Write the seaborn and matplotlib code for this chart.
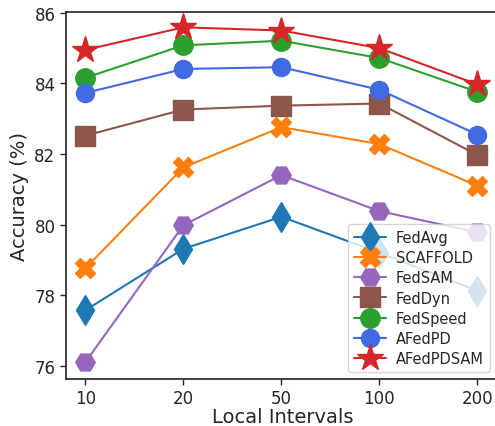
import matplotlib
matplotlib.use("Agg")
import matplotlib.pyplot as plt
import seaborn as sns

# x categories (local intervals)
intervals = ["10", "20", "50", "100", "200"]

# accuracy (%) per method
fedavg = [77.57, 79.31, 80.22, 79.20, 78.12]
scaffold = [78.76, 81.62, 82.76, 82.28, 81.10]
fedsam = [76.10, 79.98, 81.40, 80.38, 79.78]
feddyn = [82.52, 83.26, 83.37, 83.43, 81.97]
fedspeed = [84.16, 85.08, 85.21, 84.72, 83.76]
afedpd = [83.73, 84.41, 84.46, 83.82, 82.55]
afedpdsam = [84.95, 85.59, 85.50, 85.00, 83.97]

methods = ["FedAvg", "SCAFFOLD", "FedSAM", "FedDyn", "FedSpeed", "AFedPD", "AFedPDSAM"]
series = [fedavg, scaffold, fedsam, feddyn, fedspeed, afedpd, afedpdsam]
colors = ["#1f77b4", "#ff7f0e", "#9467bd", "#8c564b", "#2ca02c", "#4169e1", "#d62728"]
markers = ["d", "X", "H", "s", "o", "o", "*"]
msizes = [15, 14, 14, 14, 14, 13, 20]

sns.set_style("white")
plt.rcParams['font.family'] = ['DejaVu Sans']

fig = plt.figure(figsize=(4.95, 4.27), dpi=100)
ax = fig.add_axes([0.133, 0.11, 0.875, 0.86])

for name, vals, c, m, ms in zip(methods, series, colors, markers, msizes):
    sns.lineplot(x=intervals, y=vals, ax=ax, color=c, marker=m, markersize=ms,
                 markeredgecolor=c, markeredgewidth=1, linewidth=1.5, label=name)

ax.set_ylim(75.62, 86.03)
ax.set_xlim(-0.2, 4.22)
ax.set_yticks([76, 78, 80, 82, 84, 86])
ax.tick_params(axis="both", labelsize=12, length=4, width=1, bottom=True, left=True)
ax.set_xlabel("Local Intervals", fontsize=14, labelpad=0)
ax.set_ylabel("Accuracy (%)", fontsize=14, labelpad=4)
for s in ax.spines.values():
    s.set_color("#222222")
    s.set_linewidth(1.2)

ax.legend(loc="lower right", fontsize=10.5, framealpha=0.8, handlelength=2.2,
          borderpad=0.4, labelspacing=0.35, handletextpad=0.7,
          bbox_to_anchor=(0.995, 0.0))

fig.savefig("out.png", dpi=100)
